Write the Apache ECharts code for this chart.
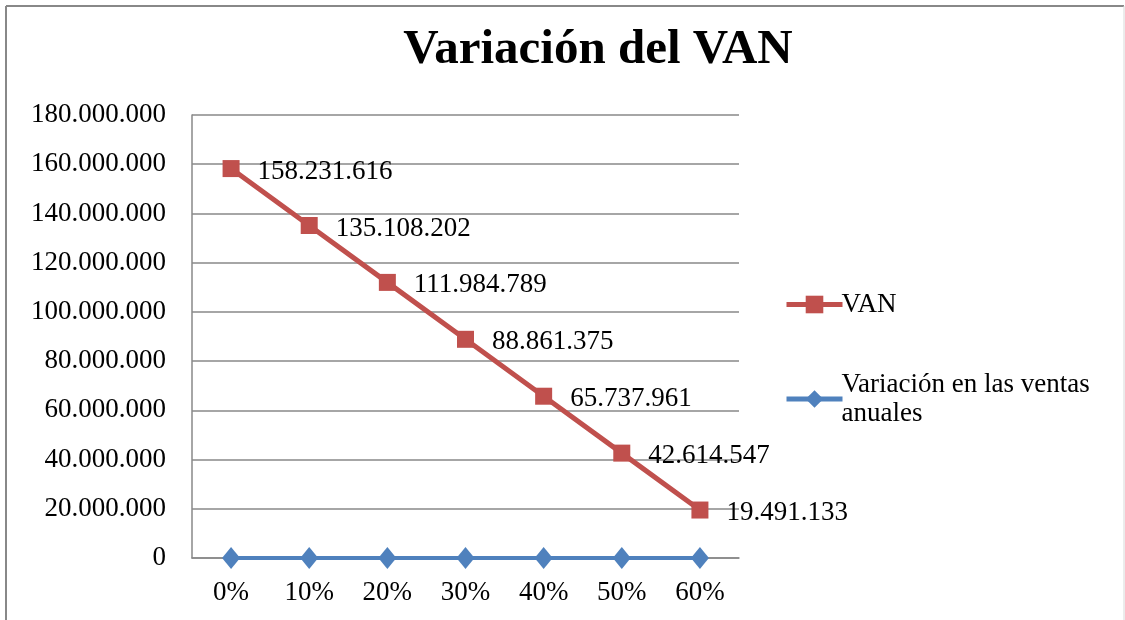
<!DOCTYPE html>
<html><head><meta charset="utf-8">
<script src="https://cdn.jsdelivr.net/npm/echarts@6/dist/echarts.min.js"></script>
<style>html,body{margin:0;padding:0;background:#fff}#c{width:1125px;height:620px}</style>
</head><body><div id="c"></div>
<script>
const categories = ['0%', '10%', '20%', '30%', '40%', '50%', '60%'];
const vanValues = [158231616, 135108202, 111984789, 88861375, 65737961, 42614547, 19491133];
const ventasValues = [0, 0.1, 0.2, 0.3, 0.4, 0.5, 0.6];
const yMin = 0, yMax = 180000000, yStep = 20000000;
const seriesNames = ['VAN', 'Variación en las ventas anuales'];

function fmt(v) {
  return Math.round(v).toString().replace(/\B(?=(\d{3})+(?!\d))/g, '.');
}
const FONT = 'Liberation Serif';
const FS = 27;
const chart = echarts.init(document.getElementById('c'), null, {renderer: 'canvas'});
chart.setOption({
  animation: false,
  backgroundColor: '#fff',
  title: {
    text: 'Variación del VAN', left: 593, textAlign: 'center', top: 21,
    textStyle: {fontFamily: FONT, fontWeight: 'bold', fontSize: 49, color: '#000'}
  },
  graphic: [
    {type: 'line', shape: {x1: 6, y1: 6, x2: 1124, y2: 6}, style: {stroke: '#888', lineWidth: 2}, silent: true},
    {type: 'line', shape: {x1: 6, y1: 6, x2: 6, y2: 620}, style: {stroke: '#888', lineWidth: 2}, silent: true},
    {type: 'line', shape: {x1: 1124, y1: 6, x2: 1124, y2: 620}, style: {stroke: '#d8d8d8', lineWidth: 1}, silent: true}
  ],
  grid: {left: 192, right: 386, top: 115, bottom: 62},
  legend: {
    orient: 'vertical', left: 779, top: 285, itemGap: 51,
    itemWidth: 56, itemHeight: 22,
    data: seriesNames,
    formatter: n => n === seriesNames[1] ? 'Variación en las ventas\nanuales' : n,
    lineStyle: {width: 5},
    textStyle: {fontFamily: FONT, fontSize: FS, color: '#000', lineHeight: 29, padding: [0, 0, 0, -6]}
  },
  xAxis: {
    type: 'category', data: categories, boundaryGap: true,
    axisLine: {lineStyle: {color: '#888', width: 1.5}},
    axisTick: {show: false},
    axisLabel: {fontFamily: FONT, fontSize: FS, color: '#000', margin: 21}
  },
  yAxis: {
    type: 'value', min: yMin, max: yMax, interval: yStep,
    axisLine: {show: true, lineStyle: {color: '#888', width: 1.5}},
    axisTick: {show: false},
    splitLine: {lineStyle: {color: '#888', width: 1.5}},
    axisLabel: {fontFamily: FONT, fontSize: FS, color: '#000', margin: 26, formatter: v => fmt(v)}
  },
  series: [{
    name: seriesNames[0], type: 'line', data: vanValues,
    color: '#C0504D',
    lineStyle: {width: 5, color: '#C0504D'},
    symbol: 'rect', symbolSize: 17,
    itemStyle: {color: '#C0504D'},
    label: {show: true, position: 'right', distance: 18, offset: [0, 3],
      fontFamily: FONT, fontSize: FS, color: '#000', formatter: p => fmt(p.value)},
    z: 3
  }, {
    name: seriesNames[1], type: 'line', data: ventasValues,
    color: '#4F81BD',
    lineStyle: {width: 4, color: '#4F81BD'},
    symbol: 'diamond', symbolSize: [18, 22],
    itemStyle: {color: '#4F81BD'},
    z: 2
  }]
});
</script></body></html>
